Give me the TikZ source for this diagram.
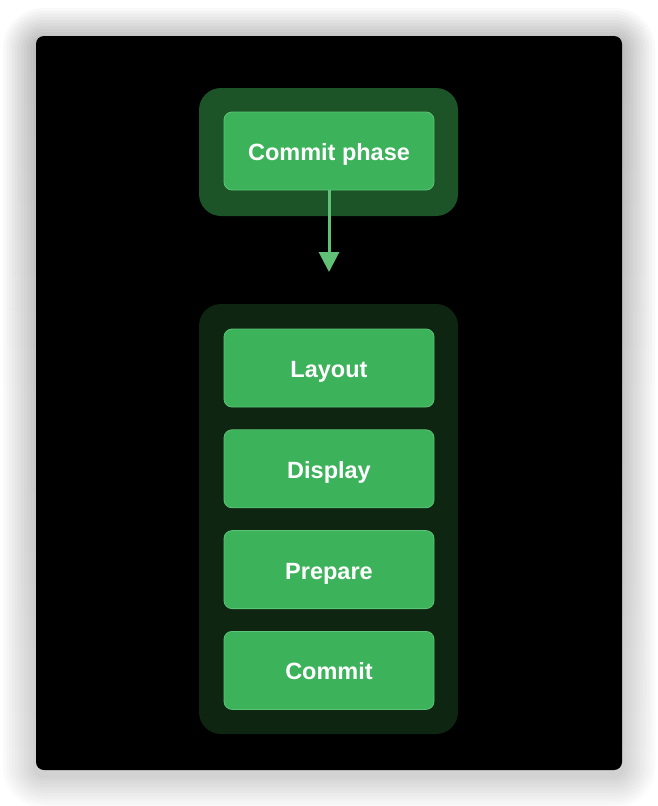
\documentclass[tikz,border=0pt]{standalone}
\usepackage{fontspec}
\setmainfont{Liberation Sans}
\usetikzlibrary{positioning,arrows.meta}
\definecolor{panel}{RGB}{0, 0, 0}
\definecolor{grp}{RGB}{28, 84, 40}
\definecolor{grpdark}{RGB}{14, 38, 17}
\definecolor{stepgreen}{RGB}{60, 178, 90}
\definecolor{stepedge}{RGB}{92, 196, 118}
\definecolor{arrowgreen}{RGB}{96, 192, 118}
\definecolor{shade}{RGB}{110, 110, 110}

\begin{document}
\begin{tikzpicture}[
        x=1pt, y=-1pt,
        stepbox/.style={
            fill=stepgreen,
            draw=stepedge,
            line width=0.8pt,
            rounded corners=8pt,
            minimum width=210pt,
            minimum height=78pt,
            text height=19pt,
            text depth=0pt,
            text=white,
            font=\fontsize{23.5}{26}\selectfont\bfseries
        },
        group/.style={rounded corners=22pt}
    ]

    % page and soft shadow
    \useasboundingbox (0,0) rectangle (658,806);
    \fill[white] (0,0) rectangle (658,806);
    \foreach \d in {33,30,27,24,21,18,15,12,9,6,3}
        \fill[shade, opacity=0.014, rounded corners=8pt+\d pt]
            (36-\d,36-\d+5) rectangle (622+\d,770+\d+5);
    \fill[panel, rounded corners=8pt] (36,36) rectangle (622,770);

    % group boxes
    \fill[grp, group] (199,88) rectangle (458,216);
    \fill[grpdark, group] (199,304) rectangle (458,734);

    % steps
    \node[stepbox] (phase) at (329,151) {Commit phase};
    \node[stepbox] (layout) at (329,368) {Layout};
    \node[stepbox, below=22pt of layout] (display) {Display};
    \node[stepbox, below=22pt of display] (prepare) {Prepare};
    \node[stepbox, below=22pt of prepare] (commit) {Commit};

    \coordinate (tip) at (329,272);
    \draw[arrowgreen, line width=3pt,
        -{Triangle[width=20pt,length=20pt]}] (phase.south) -- (tip);

\end{tikzpicture}
\end{document}
